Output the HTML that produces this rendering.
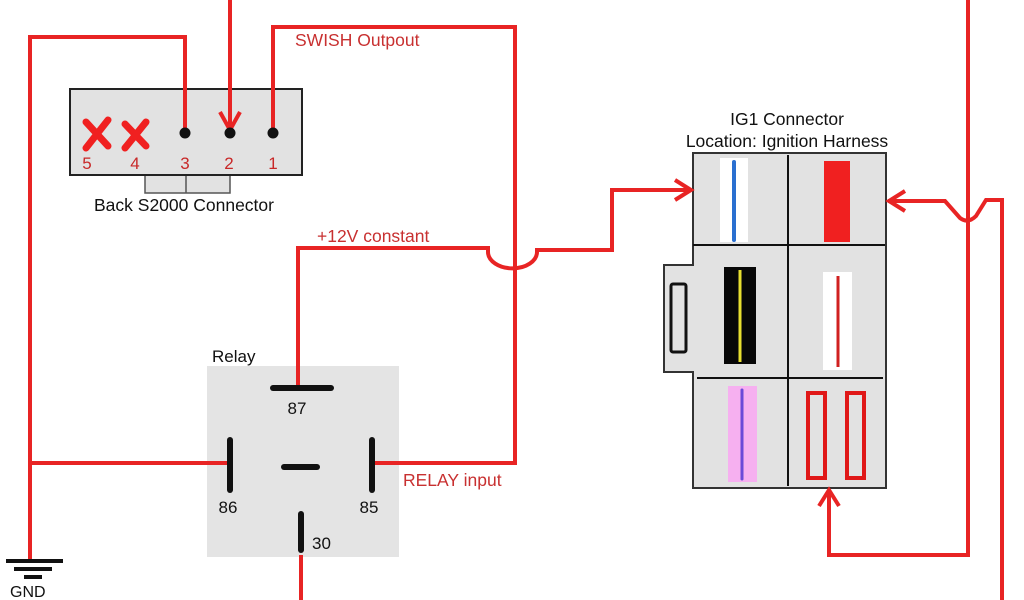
<!DOCTYPE html>
<html><head><meta charset="utf-8"><style>
html,body{margin:0;padding:0;background:#fff;}
svg{display:block;}
text{font-family:"Liberation Sans",sans-serif;}
</style></head><body>
<svg width="1024" height="600" viewBox="0 0 1024 600" xmlns="http://www.w3.org/2000/svg">
<rect width="1024" height="600" fill="#fff"/>
<rect x="145" y="174" width="85" height="19" fill="#e2e2e2" stroke="#555" stroke-width="1.5"/>
<line x1="186" y1="174" x2="186" y2="193" stroke="#555" stroke-width="1.5"/>
<rect x="70" y="89" width="232" height="86" fill="#e2e2e2" stroke="#222" stroke-width="2"/>
<rect x="207" y="366" width="192" height="191" fill="#e4e4e4"/>
<path d="M693 153 H886 V488 H693 V372 H664 V265 H693 Z" fill="#e2e2e2" stroke="#333" stroke-width="2"/>
<line x1="788" y1="155" x2="788" y2="486" stroke="#111" stroke-width="2"/>
<line x1="693" y1="245" x2="885" y2="245" stroke="#111" stroke-width="2"/>
<line x1="697" y1="378" x2="883" y2="378" stroke="#111" stroke-width="2"/>
<rect x="720" y="158" width="28" height="84" fill="#fff"/>
<line x1="734" y1="162" x2="734" y2="240" stroke="#2a6fd0" stroke-width="4" stroke-linecap="round"/>
<rect x="824" y="161" width="26" height="81" fill="#f02020"/>
<rect x="724" y="267" width="32" height="97" fill="#080808"/>
<line x1="740" y1="270" x2="740" y2="362" stroke="#e8e030" stroke-width="3"/>
<rect x="823" y="272" width="29" height="98" fill="#fff"/>
<line x1="838" y1="276" x2="838" y2="367" stroke="#d02020" stroke-width="3"/>
<rect x="671" y="284" width="15" height="68" rx="2" fill="none" stroke="#111" stroke-width="3"/>
<rect x="728" y="386" width="29" height="96" fill="#f6b0f0"/>
<line x1="742" y1="390" x2="742" y2="479" stroke="#6a4ad8" stroke-width="3" stroke-linecap="round"/>
<rect x="808" y="393" width="17" height="85" fill="none" stroke="#e01818" stroke-width="4"/>
<rect x="847" y="393" width="17" height="85" fill="none" stroke="#e01818" stroke-width="4"/>
<g fill="none" stroke="#e82424" stroke-width="4" stroke-linejoin="miter">
<path d="M30 560 V37 H185 V133"/>
<path d="M30 463 H228"/>
<path d="M230 0 V130"/>
<path d="M220 112 L230 130 L240 112"/>
<path d="M273 133 V27 H515 V463 H374"/>
<path d="M298 388 V248 H488 V252 A24 16 0 0 0 537 252 V250 H612 V190 H690"/>
<path d="M675 180 L691 190 L675 200"/>
<path d="M968 0 V555 H829 V491"/>
<path d="M819 506 L829 490 L839 506"/>
<path d="M888 201 H945 L960 218 Q968 224 976 216 L986 200 H1002 V600"/>
<path d="M905 191 L889 201 L905 211"/>
<path d="M301 555 V600"/>
</g>
<g stroke="#111" stroke-width="6" stroke-linecap="round">
<line x1="273" y1="388" x2="331" y2="388"/>
<line x1="230" y1="440" x2="230" y2="490"/>
<line x1="372" y1="440" x2="372" y2="490"/>
<line x1="284" y1="467" x2="317" y2="467"/>
<line x1="301" y1="514" x2="301" y2="550"/>
</g>
<g stroke="#111" stroke-width="4">
<line x1="6" y1="561" x2="63" y2="561"/>
<line x1="14" y1="569" x2="52" y2="569"/>
<line x1="24" y1="577" x2="42" y2="577"/>
</g>
<circle cx="185" cy="133" r="5.5" fill="#111"/>
<circle cx="230" cy="133" r="5.5" fill="#111"/>
<circle cx="273" cy="133" r="5.5" fill="#111"/>
<g stroke="#f02020" stroke-width="7" stroke-linecap="round">
<line x1="86" y1="122" x2="108" y2="146"/><line x1="108" y1="120" x2="86" y2="148"/>
<line x1="125" y1="124" x2="146" y2="146"/><line x1="146" y1="122" x2="125" y2="148"/>
</g>
<g font-size="17" fill="#c82828" text-anchor="middle">
<text x="87" y="169">5</text><text x="135" y="169">4</text><text x="185" y="169">3</text><text x="229" y="169">2</text><text x="273" y="169">1</text>
</g>
<text x="184" y="211" font-size="17.5" fill="#111" text-anchor="middle">Back S2000 Connector</text>
<text x="295" y="46" font-size="17.5" fill="#c83030">SWISH Outpout</text>
<text x="317" y="242" font-size="17.5" fill="#c83030">+12V constant</text>
<text x="787" y="125" font-size="17.5" fill="#111" text-anchor="middle">IG1 Connector</text>
<text x="787" y="147" font-size="17.5" fill="#111" text-anchor="middle">Location: Ignition Harness</text>
<text x="212" y="362" font-size="17" fill="#111">Relay</text>
<text x="297" y="414" font-size="17" fill="#111" text-anchor="middle">87</text>
<text x="228" y="513" font-size="17" fill="#111" text-anchor="middle">86</text>
<text x="369" y="513" font-size="17" fill="#111" text-anchor="middle">85</text>
<text x="312" y="549" font-size="17" fill="#111">30</text>
<text x="403" y="486" font-size="17.5" fill="#c83030">RELAY input</text>
<text x="10" y="597" font-size="16" fill="#111">GND</text>
</svg>
</body></html>
